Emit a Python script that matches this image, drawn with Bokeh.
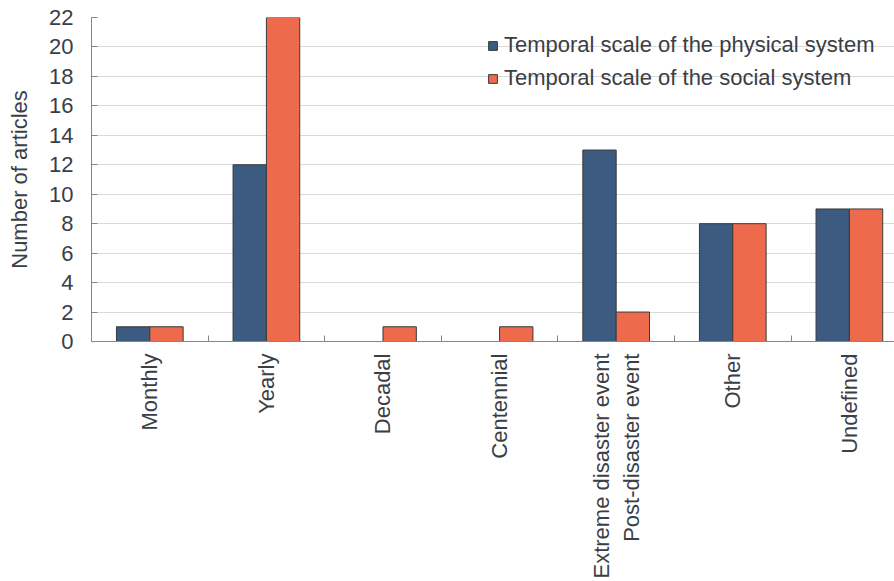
from bokeh.plotting import figure
from bokeh.models import ColumnDataSource, Range1d, FixedTicker, Legend, LegendItem
from bokeh.transform import dodge
from bokeh.embed import file_html
from bokeh.resources import INLINE
import math

categories = ["Monthly", "Yearly", "Decadal", "Centennial",
              "Extreme disaster event\nPost-disaster event", "Other", "Undefined"]
physical = [1, 12, 0, 0, 13, 8, 9]
social = [1, 22, 1, 1, 2, 8, 9]
y_ticks = list(range(0, 23, 2))

BLUE = "#3d5a80"
ORANGE = "#ee6a4c"
TEXT = "#3b3e45"
FONT = "Liberation Sans"
FS = "22px"

centers = [i + 0.5 for i in range(len(categories))]
source = ColumnDataSource(dict(x=centers, physical=physical, social=social))

p = figure(width=894, height=581, output_backend="svg", toolbar_location=None,
           x_range=Range1d(0, 6.887), y_range=Range1d(0, 22),
           min_border_left=91, min_border_top=17, min_border_right=0,
           min_border_bottom=240)
p.outline_line_color = None
p.background_fill_color = "white"

bw = 0.286
r1 = p.vbar(x=dodge("x", -bw / 2), top="physical", width=bw, source=source,
            fill_color=BLUE, line_color="#3a3a3a", line_width=1)
r2 = p.vbar(x=dodge("x", bw / 2), top="social", width=bw, source=source,
            fill_color=ORANGE, line_color="#3a3a3a", line_width=1)

# x axis
xa = p.xaxis[0]
xa.ticker = FixedTicker(ticks=centers, minor_ticks=list(range(1, len(categories))))
xa.major_label_overrides = {c: lab for c, lab in zip(centers, categories)}
xa.major_label_orientation = math.pi / 2
xa.major_tick_in = 0
xa.major_tick_out = 0
xa.minor_tick_in = 6
xa.minor_tick_out = 0
xa.minor_tick_line_color = "#868686"
xa.axis_line_color = "#868686"
xa.major_label_text_font = FONT
xa.major_label_text_font_size = FS
xa.major_label_text_color = TEXT
xa.major_label_standoff = 12

# y axis
ya = p.yaxis[0]
ya.ticker = FixedTicker(ticks=y_ticks)
ya.major_tick_in = 6
ya.major_tick_out = 0
ya.minor_tick_line_color = None
ya.major_tick_line_color = "#868686"
ya.axis_line_color = "#868686"
ya.major_label_text_font = FONT
ya.major_label_text_font_size = FS
ya.major_label_text_color = TEXT
ya.major_label_standoff = 18
ya.axis_label = "Number of articles"
ya.axis_label_text_font = FONT
ya.axis_label_text_font_size = FS
ya.axis_label_text_font_style = "normal"
ya.axis_label_text_color = TEXT
ya.axis_label_standoff = 14

p.xgrid.grid_line_color = None
p.ygrid.grid_line_color = "#d9d9d9"
p.ygrid.ticker = FixedTicker(ticks=y_ticks)

legend = Legend(items=[LegendItem(label="Temporal scale of the physical system", renderers=[r1]),
                       LegendItem(label="Temporal scale of the social system", renderers=[r2])],
                location=(396, 250))
legend.background_fill_alpha = 0
legend.border_line_color = None
legend.padding = 0
legend.margin = 0
legend.spacing = 7
legend.glyph_width = 11
legend.glyph_height = 11
legend.label_standoff = 6
legend.label_text_font = FONT
legend.label_text_font_size = FS
legend.label_text_color = TEXT
p.add_layout(legend)

open("out.html", "w").write(file_html(p, INLINE))
